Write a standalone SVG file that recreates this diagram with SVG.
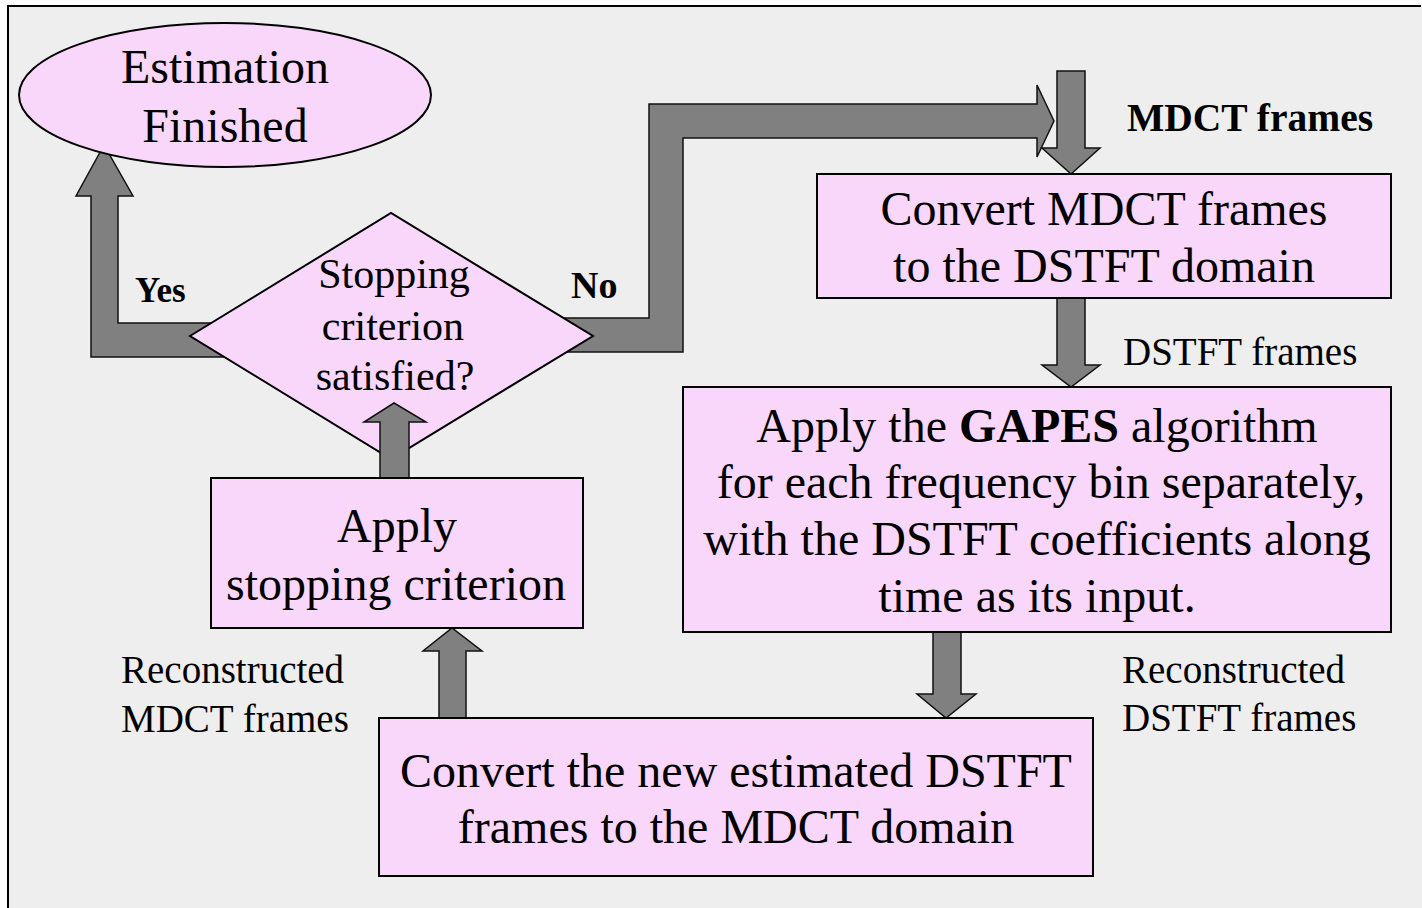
<svg xmlns="http://www.w3.org/2000/svg" width="1422" height="908" viewBox="0 0 1422 908">
<style>
.node{fill:#f9d7fb;stroke:#000;stroke-width:2}
.arr{fill:#808080;stroke:#111;stroke-width:1.5;stroke-linejoin:miter}
text{font-family:"Liberation Serif","Times New Roman",serif;fill:#000}
.big{font-size:48px;text-anchor:middle}
.dia{font-size:42px;text-anchor:middle}
.lab{font-size:39px}
.blab{font-size:38px;font-weight:bold}
</style>
<rect x="0" y="0" width="1422" height="908" fill="#ffffff"/>
<rect x="8" y="6" width="1414" height="902" fill="#eeeeee"/>
<path d="M8,908 L8,6 L1421,6" fill="none" stroke="#000" stroke-width="2"/>

<g id="connectors">
  <path id="yes-arrow" class="arr" d="M240,323 L118,323 L118,196 L133,196 L104,145 L76,196 L91,196 L91,357 L240,357 Z"/>
  <path id="no-arrow" class="arr" d="M540,318 L649,318 L649,104 L1037,104 L1037,85 L1054,121 L1037,157 L1037,138 L683,138 L683,352 L540,352 Z"/>
  <path id="mdct-in" class="arr" d="M1057,71 L1085,71 L1085,148 L1100,148 L1071,174 L1042,148 L1057,148 Z"/>
  <path id="dstft-arrow" class="arr" d="M1057,298 L1085,298 L1085,365 L1100,365 L1071,387 L1042,365 L1057,365 Z"/>
  <path id="rec-dstft-arrow" class="arr" d="M933,632 L961,632 L961,694 L976,694 L946,718 L917,694 L933,694 Z"/>
  <path id="rec-mdct-arrow" class="arr" d="M439,718 L466,718 L466,651 L482,651 L452,628 L423,651 L439,651 Z"/>
</g>

<g id="estimation-finished">
  <ellipse class="node" cx="225" cy="95" rx="206" ry="72" stroke-width="1.5"/>
  <text class="big" x="225" y="83">Estimation</text>
  <text class="big" x="225" y="142">Finished</text>
</g>

<g id="stopping-decision">
  <polygon class="node" points="190,336 391,213 593,336 391,459" stroke-width="1.5"/>
  <text class="dia" x="394" y="288">Stopping</text>
  <text class="dia" x="393" y="340">criterion</text>
  <text class="dia" x="395" y="390">satisfied?</text>
</g>

<g id="connectors-top">
  <path id="apply-to-decision" class="arr" d="M380,478 L409,478 L409,422 L426,422 L394,403 L364,422 L380,422 Z"/>
</g>

<g id="convert-mdct">
  <rect class="node" x="817" y="174" width="574" height="124"/>
  <text class="big" x="1104" y="225">Convert MDCT frames</text>
  <text class="big" x="1104" y="282">to the DSTFT domain</text>
</g>

<g id="gapes">
  <rect class="node" x="683" y="387" width="708" height="245"/>
  <text class="big" x="1037" y="442">Apply the <tspan font-weight="bold">GAPES</tspan> algorithm</text>
  <text class="big" x="1041" y="498">for each frequency bin separately,</text>
  <text class="big" x="1037" y="555">with the DSTFT coefficients along</text>
  <text class="big" x="1037" y="612">time as its input.</text>
</g>

<g id="convert-dstft">
  <rect class="node" x="379" y="718" width="714" height="158"/>
  <text class="big" x="736" y="787">Convert the new estimated DSTFT</text>
  <text class="big" x="736" y="843">frames to the MDCT domain</text>
</g>

<g id="apply-stopping">
  <rect class="node" x="211" y="478" width="372" height="150"/>
  <text class="big" x="397" y="542">Apply</text>
  <text class="big" x="396" y="600">stopping criterion</text>
</g>

<g id="labels">
  <text class="blab" x="135" y="302" style="font-size:35px">Yes</text>
  <text class="blab" x="571" y="298">No</text>
  <text class="blab" x="1127" y="131" style="font-size:39.5px">MDCT frames</text>
  <text class="lab" x="1123" y="365">DSTFT frames</text>
  <text class="lab" x="1122" y="683">Reconstructed</text>
  <text class="lab" x="1122" y="731">DSTFT frames</text>
  <text class="lab" x="121" y="683">Reconstructed</text>
  <text class="lab" x="121" y="732">MDCT frames</text>
</g>
</svg>
